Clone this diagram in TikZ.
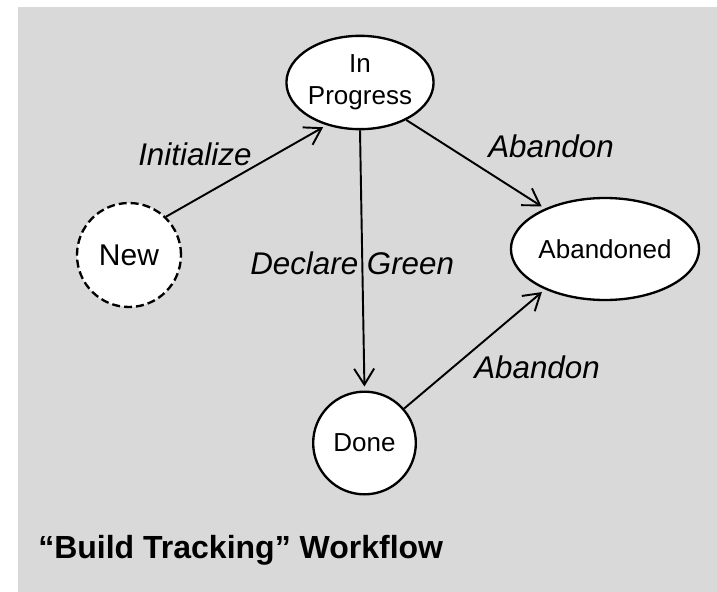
\documentclass[tikz,border=0pt]{standalone}
\usepackage{fontspec}
\setmainfont{Liberation Sans}
\usetikzlibrary{shapes.geometric,arrows.meta}
\definecolor{bggray}{RGB}{217,217,217}
\begin{document}
\begin{tikzpicture}[x=0.75pt,y=-0.75pt,
  state/.style={ellipse,draw,fill=white,line width=1.75pt,inner sep=0pt,
    font=\fontsize{19.5}{24}\selectfont,align=center},
  trans/.style={-{Straight Barb[length=12pt,width=15pt]},line width=1.45pt,shorten >=3pt},
  lbl/.style={font=\fontsize{23.5}{28}\selectfont\itshape,inner sep=0pt,anchor=base west}]
\useasboundingbox (0,0) rectangle (717,592);
\fill[bggray] (18,7) rectangle (717,592);
\node[state,minimum width=101pt,minimum height=70pt] (ip) at (360,82.5) {In\\Progress};
\node[state,dashed,dash pattern=on 6pt off 3pt,minimum width=78pt,minimum height=78pt,
  font=\fontsize{22.5}{27}\selectfont] (new) at (129,255) {New};
\node[state,minimum width=117pt,minimum height=76.5pt] (ab) at (605,249) {Abandoned};
\node[state,minimum width=77pt,minimum height=77pt] (done) at (364.5,443) {Done};
\draw[trans] (new.46) -- (ip.232);
\draw[trans] (ip.321) -- (ab.146);
\draw[trans] (ip.south) -- (done.north);
\draw[trans] (done.41) -- (ab.214);
\node[lbl] (l1) at (138,165) {Initialize};
\node[lbl] (l2) at (488,157) {Abandon};
\node[lbl] (l3) at (250,274) {Declare Green};
\node[lbl] (l4) at (474,378) {Abandon};
\node[font=\fontsize{24}{28}\selectfont\bfseries,inner sep=0pt,anchor=base west] (title) at (38,558) {“Build Tracking” Workflow};
\end{tikzpicture}
\end{document}
